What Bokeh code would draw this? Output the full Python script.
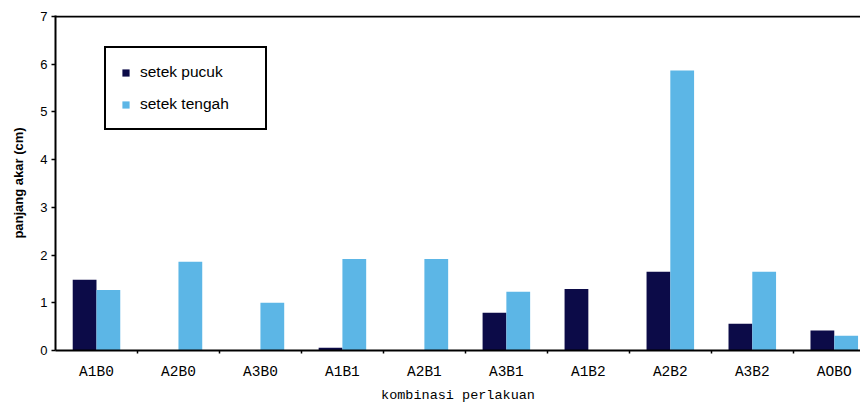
from bokeh.plotting import figure
from bokeh.models import (ColumnDataSource, FixedTicker, Legend, LegendItem, Span, Range1d)
from bokeh.transform import dodge
from bokeh.embed import file_html
from bokeh.resources import INLINE

categories = ["A1B0", "A2B0", "A3B0", "A1B1", "A2B1", "A3B1", "A1B2", "A2B2", "A3B2", "AOBO"]
setek_pucuk = [1.48, 0.0, 0.0, 0.06, 0.0, 0.79, 1.29, 1.65, 0.56, 0.42]
setek_tengah = [1.27, 1.86, 1.0, 1.92, 1.92, 1.23, 0.0, 5.87, 1.65, 0.31]
y_ticks = [0, 1, 2, 3, 4, 5, 6, 7]

DARK = "#0c0b48"
LIGHT = "#5cb6e6"

xpos = [i + 0.5 for i in range(len(categories))]
src = ColumnDataSource(dict(x=xpos, cat=categories, p=setek_pucuk, t=setek_tengah))

p = figure(width=860, height=405, output_backend="svg", toolbar_location=None,
           x_range=Range1d(0, 9.82), y_range=Range1d(0, 7.02))
p.min_border_left = 55
p.min_border_right = 0
p.min_border_top = 15
p.min_border_bottom = 52
p.background_fill_color = "white"
p.border_fill_color = "white"
p.outline_line_color = None
p.grid.visible = False

r1 = p.vbar(x=dodge("x", -0.145), top="p", width=0.29, source=src,
            fill_color=DARK, line_color=None)
r2 = p.vbar(x=dodge("x", 0.145), top="t", width=0.29, source=src,
            fill_color=LIGHT, line_color=None)

p.add_layout(Span(location=7, dimension="width", line_color="black",
                  line_width=2, level="overlay"))

# y axis
ya = p.yaxis[0]
ya.ticker = FixedTicker(ticks=y_ticks)
ya.axis_line_color = "black"
ya.axis_line_width = 2
ya.major_tick_line_color = "black"
ya.major_tick_in = 0
ya.major_tick_out = 4
ya.major_tick_line_width = 1.5
ya.minor_tick_out = 0
ya.minor_tick_in = 0
ya.major_label_text_color = "black"
ya.major_label_text_font = "Liberation Sans"
ya.major_label_text_font_size = "13px"
ya.major_label_standoff = 4
ya.axis_label = "panjang akar (cm)"
ya.axis_label_text_color = "black"
ya.axis_label_text_font = "Liberation Sans"
ya.axis_label_text_font_style = "bold"
ya.axis_label_text_font_size = "13px"
ya.axis_label_standoff = 11

# x axis
xa = p.xaxis[0]
xa.ticker = FixedTicker(ticks=xpos, minor_ticks=[i for i in range(1, len(categories) + 1)])
xa.major_label_overrides = {x: c for x, c in zip(xpos, categories)}
xa.axis_line_color = "black"
xa.axis_line_width = 2
xa.major_tick_in = 0
xa.major_tick_out = 0
xa.minor_tick_in = 0
xa.minor_tick_out = 3
xa.minor_tick_line_color = "black"
xa.minor_tick_line_width = 1.5
xa.major_label_text_color = "black"
xa.major_label_text_font = "Liberation Mono"
xa.major_label_text_font_size = "14.5px"
xa.major_label_standoff = 10
xa.axis_label = "kombinasi perlakuan"
xa.axis_label_text_color = "black"
xa.axis_label_text_font = "Liberation Mono"
xa.axis_label_text_font_style = "normal"
xa.axis_label_text_font_size = "13.5px"
xa.axis_label_standoff = 5

legend = Legend(items=[LegendItem(label="setek pucuk", renderers=[r1]),
                       LegendItem(label="setek tengah", renderers=[r2])],
                location=(49, 220))
legend.border_line_color = "black"
legend.border_line_alpha = 1
legend.border_line_width = 2
legend.background_fill_color = "white"
legend.background_fill_alpha = 1
legend.label_text_color = "black"
legend.label_text_font = "Liberation Sans"
legend.label_text_font_size = "15.5px"
legend.glyph_width = 9
legend.glyph_height = 9
legend.label_standoff = 10
legend.label_width = 110
legend.label_height = 15
legend.spacing = 14
legend.padding = 15
legend.margin = 0
p.add_layout(legend)

open("out.html", "w").write(file_html(p, INLINE))
